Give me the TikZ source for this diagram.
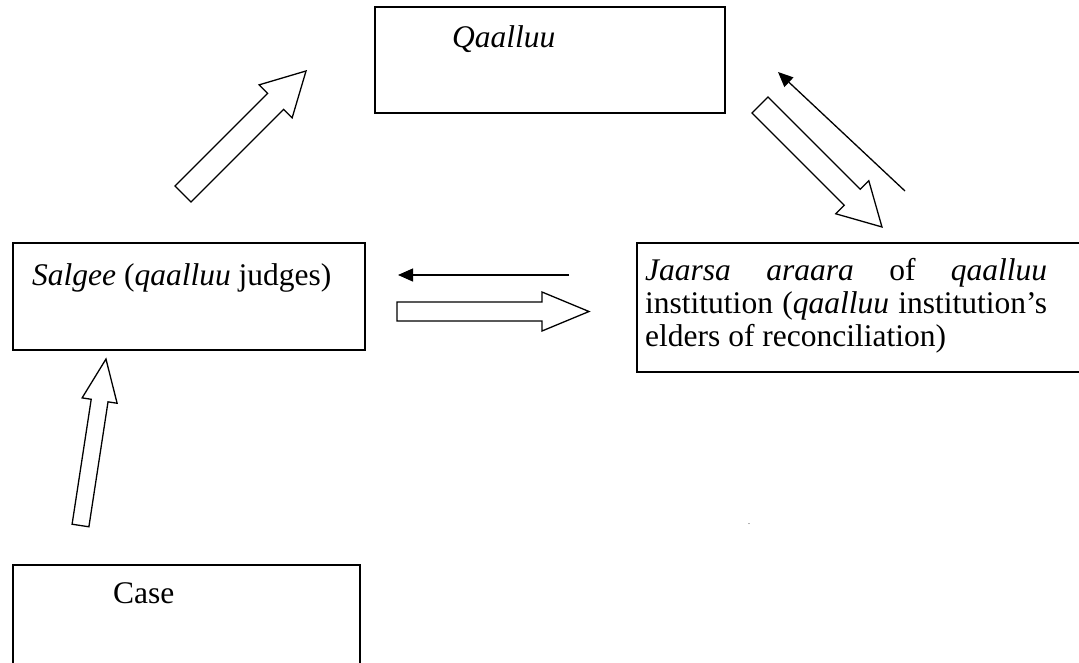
\documentclass[tikz,border=0pt]{standalone}
\usepackage{fontspec}
\setmainfont{Liberation Serif}
\usetikzlibrary{arrows.meta}

\begin{document}
\begin{tikzpicture}[x=1pt,y=-1pt]
  \tikzstyle{box}=[draw=black,line width=1.6pt,inner sep=0pt]
  \tikzstyle{fat}=[draw=black,fill=white,line width=1.3pt,line join=miter]
  \tikzstyle{thin}=[draw=black,line width=1.3pt,-{Triangle[length=15pt,width=13pt]}]
  \tikzstyle{txt}=[inner sep=0pt,anchor=base west,font=\fontsize{31.5}{33}\selectfont]

  \useasboundingbox (0,0) rectangle (1079,662);
  \clip (0,0) rectangle (1079,662);

  % boxes
  \node[box,minimum width=350pt,minimum height=106pt] (qaalluu) at (550,60) {};
  \node[box,minimum width=352pt,minimum height=107pt] (salgee) at (189,296.5) {};
  \node[box,minimum width=473pt,minimum height=129pt] (jaarsa) at (873.5,307.5) {};
  \node[box,minimum width=347pt,minimum height=135pt] (case) at (186.5,632.5) {};

  % texts
  \node[txt] (tq) at (452,47) {\textit{Qaalluu}};
  \node[txt] (ts) at (32,285) {\textit{Salgee} (\textit{qaalluu} judges)};
  \node[txt,anchor=north west,text width=402pt,align=justify] (tj) at (645,258)
    {\textit{Jaarsa araara} of \textit{qaalluu}\linebreak institution (\textit{qaalluu} institution's\linebreak elders of reconciliation)};
  \node[txt] (tc) at (113,603) {Case};
  \node[inner sep=0pt,font=\fontsize{8}{8}\selectfont] (dot) at (749,524) {.};

  % block arrows
  \draw[fat,shift={(183,194)},rotate=45] (0,-11.3) -- (131,-11.3) -- (131,-23.35) -- (174,0) -- (131,23.35) -- (131,11.3) -- (0,11.3) -- cycle;
  \draw[fat,shift={(760,105)},rotate=-45] (0,-11.3) -- (130.5,-11.3) -- (130.5,-23.35) -- (172.5,0) -- (130.5,23.35) -- (130.5,11.3) -- (0,11.3) -- cycle;
  \draw[fat,shift={(397,311.5)}] (0,-9.5) -- (145,-9.5) -- (145,-19.5) -- (192,0) -- (145,19.5) -- (145,9.5) -- (0,9.5) -- cycle;
  \draw[fat,shift={(80.5,525.5)},rotate=81.3] (0,-8.5) -- (126.4,-8.5) -- (126.4,-17.7) -- (168.4,0) -- (126.4,17.7) -- (126.4,8.5) -- (0,8.5) -- cycle;

  % thin arrows
  \coordinate (jq) at (905,191);
  \coordinate (qj) at (778,72);
  \draw[thin] (jq) -- (qj);
  \coordinate (js) at (569,275);
  \coordinate (sj) at (398,275);
  \draw[thin] (js) -- (sj);

\end{tikzpicture}
\end{document}
